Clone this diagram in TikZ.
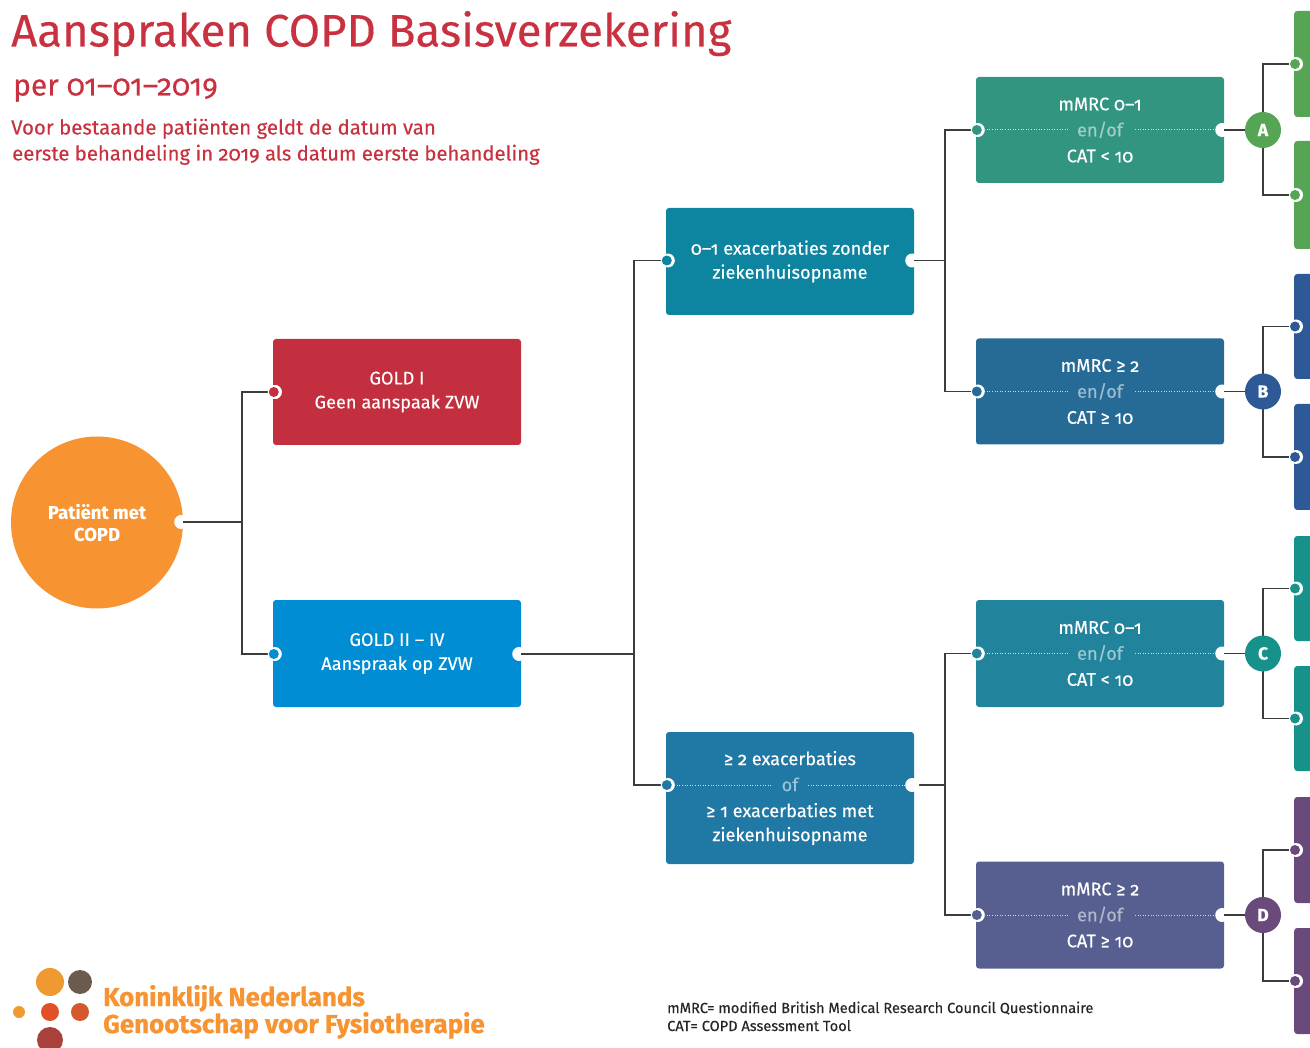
\documentclass[tikz,border=0pt]{standalone}
\usepackage{fontspec}
\setmainfont{Fira Sans}[Numbers=OldStyle,FakeBold=0.3]
\newfontfamily\logofont{Fira Sans}[BoldFeatures={FakeBold=0.9}]
\usetikzlibrary{calc}
\definecolor{cRed}{HTML}{C42F3F}
\definecolor{cTitle}{HTML}{C8313F}
\definecolor{cOrange}{HTML}{F79431}
\definecolor{cSky}{HTML}{008DD3}
\definecolor{cExA}{HTML}{0E85A0}
\definecolor{cExB}{HTML}{2078A5}
\definecolor{cA}{HTML}{31957F}
\definecolor{cB}{HTML}{266B96}
\definecolor{cC}{HTML}{21849C}
\definecolor{cD}{HTML}{565F8F}
\definecolor{cGreen}{HTML}{55A555}
\definecolor{cBlue}{HTML}{2D5A96}
\definecolor{cTeal}{HTML}{17928A}
\definecolor{cPurple}{HTML}{6A4A7A}
\definecolor{cLine}{HTML}{3C3C3C}
\definecolor{logoA}{HTML}{EE9A30}
\definecolor{logoB}{HTML}{6B5A4E}
\definecolor{logoC}{HTML}{E2502A}
\definecolor{logoD}{HTML}{D4592C}
\definecolor{logoE}{HTML}{A8403C}
\tikzset{
  x=1pt,y=-1pt,
  boxnode/.style={rectangle,rounded corners=3pt,inner sep=0pt,minimum width=248pt,text=white,
    align=center,font=\fontsize{18.2}{24}\selectfont},
  threeline/.style={boxnode,font=\fontsize{18.2}{26}\selectfont},
  sidebox/.style={rectangle,rounded corners=3pt,inner sep=0pt,minimum width=120pt,anchor=west},
  lettercirc/.style={circle,inner sep=0pt,minimum size=36pt,text=white,font=\fontsize{17.5}{20}\selectfont\bfseries},
  wire/.style={draw=cLine,line width=1.8pt},
  sep/.style={draw=white,opacity=.75,line width=1pt,dash pattern=on 1pt off 1.6pt},
  redtext/.style={anchor=base west,inner sep=0pt,text=cTitle},
  logotext/.style={anchor=base west,inner sep=0pt,text=cOrange,font=\logofont\fontsize{25.9}{26}\selectfont\bfseries},
  foot/.style={anchor=base west,inner sep=0pt,text=black!85,font=\fontsize{14.6}{15}\selectfont},
}
% notch on the left edge with coloured dot; notch on the right edge (named free coordinates)
\newcommand{\leftport}[2]{\fill[white] ($(#1)+(2,0)$) circle (7pt);\fill[#2] ($(#1)+(1,0)$) circle (5pt);}
\newcommand{\rightport}[1]{\fill[white] ($(#1)+(-2,0)$) circle (7pt);}
\begin{document}
\begin{tikzpicture}
\useasboundingbox (0,0) rectangle (1310,1048);
\clip (0,0) rectangle (1310,1048);

% titles
\node[redtext,font=\fontsize{45.5}{46}\selectfont] (t1) at (11,46.5) {Aanspraken COPD Basisverzekering};
\node[redtext,font=\fontsize{29.9}{30}\selectfont] (t2) at (13,95.5) {per 01–01–2019};
\node[redtext,font=\fontsize{20.4}{21}\selectfont] (t3) at (11,134.5) {Voor bestaande patiënten geldt de datum van};
\node[redtext,font=\fontsize{20.3}{21}\selectfont] (t4) at (12,160.5) {eerste behandeling in 2019 als datum eerste behandeling};

% main nodes
\node[circle,fill=cOrange,inner sep=0pt,minimum size=172pt,text=white,align=center,
  font=\fontsize{18.5}{22}\selectfont\bfseries] (pat) at (97,522.5) {Patiënt met\\COPD};
\node[boxnode,fill=cRed,minimum height=106pt] (g1) at (397,392) {GOLD I\\Geen aanspaak ZVW};
\node[boxnode,fill=cSky,minimum height=107pt] (g2) at (397,653.5) {GOLD II – IV\\Aanspraak op ZVW};
\node[boxnode,fill=cExA,minimum height=107pt] (e1) at (790,261.5) {0–1 exacerbaties zonder\\ziekenhuisopname};
\node[threeline,fill=cExB,minimum height=132pt] (e2) at (790,798) {≥ 2 exacerbaties\\{\color{white!55!cExB}of}\\≥ 1 exacerbaties met\\[-2pt]ziekenhuisopname};
\node[threeline,fill=cA,minimum height=106pt] (ma) at (1100,130) {mMRC 0–1\\{\color{white!55!cA}en/of}\\CAT < 10};
\node[threeline,fill=cB,minimum height=106pt] (mb) at (1100,391.5) {mMRC ≥ 2\\{\color{white!55!cB}en/of}\\CAT ≥ 10};
\node[threeline,fill=cC,minimum height=107pt] (mc) at (1100,653.5) {mMRC 0–1\\{\color{white!55!cC}en/of}\\CAT < 10};
\node[threeline,fill=cD,minimum height=107pt] (md) at (1100,915) {mMRC ≥ 2\\{\color{white!55!cD}en/of}\\CAT ≥ 10};

% cut-off boxes on the right
\node[sidebox,fill=cGreen,minimum height=106pt] (a1) at (1294,64) {};
\node[sidebox,fill=cGreen,minimum height=108pt] (a2) at (1294,195) {};
\node[sidebox,fill=cBlue,minimum height=105pt] (b1) at (1294,326.5) {};
\node[sidebox,fill=cBlue,minimum height=106pt] (b2) at (1294,457) {};
\node[sidebox,fill=cTeal,minimum height=105pt] (c1) at (1294,588.5) {};
\node[sidebox,fill=cTeal,minimum height=105pt] (c2) at (1294,718.5) {};
\node[sidebox,fill=cPurple,minimum height=106pt] (d1) at (1294,850) {};
\node[sidebox,fill=cPurple,minimum height=106pt] (d2) at (1294,981) {};

% port coordinates
\coordinate (patR) at ($(pat.east)+(0,-0.5)$);
\coordinate (g1L) at ($(g1.west)$);
\coordinate (g2L) at ($(g2.west)+(0,0.5)$);
\coordinate (g2R) at ($(g2.east)+(0,0.5)$);
\coordinate (e1L) at ($(e1.west)+(0,-1)$);
\coordinate (e1R) at ($(e1.east)+(0,-1)$);
\coordinate (e2L) at ($(e2.west)+(0,-13)$);
\coordinate (e2R) at ($(e2.east)+(0,-13)$);
\foreach \m in {ma,mb,mc,md}{
  \coordinate (\m L) at (\m.west);
  \coordinate (\m R) at (\m.east);
}

% letter circle positions
\coordinate (la) at (1263,130);
\coordinate (lb) at (1263,391.5);
\coordinate (lc) at (1263,653.5);
\coordinate (ld) at (1263,915);

% notches
\rightport{patR}\rightport{g2R}\rightport{e1R}
\rightport{maR}\rightport{mbR}\rightport{mcR}\rightport{mdR}
\fill[white] ($(g1L)+(2,0)$) circle (7pt);

% junctions
\coordinate (j1) at (242,522);
\coordinate (j2) at (634,654);
\coordinate (j3) at (945,260.5);
\coordinate (j4) at (945,785);

% connectors
\draw[wire] (patR) -- (j1);
\draw[wire] (j1) |- (g1L);
\draw[wire] (j1) |- (g2L);
\draw[wire] (g2R) -- (j2);
\draw[wire] (j2) |- (e1L);
\draw[wire] (j2) |- (e2L);
\draw[wire] (e1R) -- (j3);
\draw[wire] (j3) |- (maL);
\draw[wire] (j3) |- (mbL);
\draw[wire] (e2R) -- (j4);
\draw[wire] (j4) |- (mcL);
\draw[wire] (j4) |- (mdL);
\draw[wire] (maR) -- (la);
\draw[wire] (mbR) -- (lb);
\draw[wire] (mcR) -- (lc);
\draw[wire] (mdR) -- (ld);
\foreach \l/\p/\q in {la/a1/a2,lb/b1/b2,lc/c1/c2,ld/d1/d2}{
  \draw[wire] (\l) |- (\p.west);
  \draw[wire] (\l) |- (\q.west);
}
% letter circles above their wires
\node[lettercirc,fill=cGreen] (lA) at (la) {A};
\node[lettercirc,fill=cBlue] (lB) at (lb) {B};
\node[lettercirc,fill=cTeal] (lC) at (lc) {C};
\node[lettercirc,fill=cPurple] (lD) at (ld) {D};

% port dots
\leftport{g1L}{cRed}\leftport{g2L}{cSky}\leftport{e1L}{cExA}\leftport{e2L}{cExB}
\leftport{maL}{cA}\leftport{mbL}{cB}\leftport{mcL}{cC}\leftport{mdL}{cD}
\leftport{a1.west}{cGreen}\leftport{a2.west}{cGreen}\leftport{b1.west}{cBlue}\leftport{b2.west}{cBlue}
\leftport{c1.west}{cTeal}\leftport{c2.west}{cTeal}\leftport{d1.west}{cPurple}\leftport{d2.west}{cPurple}
\rightport{e2R}

% dotted separators
\foreach \m in {ma,mb,mc,md}{
  \draw[sep] ($(\m.west)+(11,0)$) -- ($(\m.center)+(-31,0)$);
  \draw[sep] ($(\m.center)+(35,0)$) -- ($(\m.east)+(-9,0)$);
}
\draw[sep] ($(e2L)+(11,0)$) -- ($(e2.center)+(-19,-13)$);
\draw[sep] ($(e2.center)+(18,-13)$) -- ($(e2R)+(-9,0)$);

% logo
\fill[logoA] (50,982) circle (14pt);
\fill[logoB] (80,982) circle (12pt);
\fill[logoA] (19,1012) circle (6pt);
\fill[logoC] (50,1012) circle (9pt);
\fill[logoD] (80,1012) circle (9pt);
\fill[logoE] (50,1040) circle (13pt);
\node[logotext] (k1) at (103,1006) {Koninklijk Nederlands};
\node[logotext] (k2) at (103,1033) {Genootschap voor Fysiotherapie};

% footnotes
\node[foot] (f1) at (667,1013) {mMRC= modified British Medical Research Council Questionnaire};
\node[foot] (f2) at (667,1031) {CAT= COPD Assessment Tool};
\end{tikzpicture}
\end{document}
